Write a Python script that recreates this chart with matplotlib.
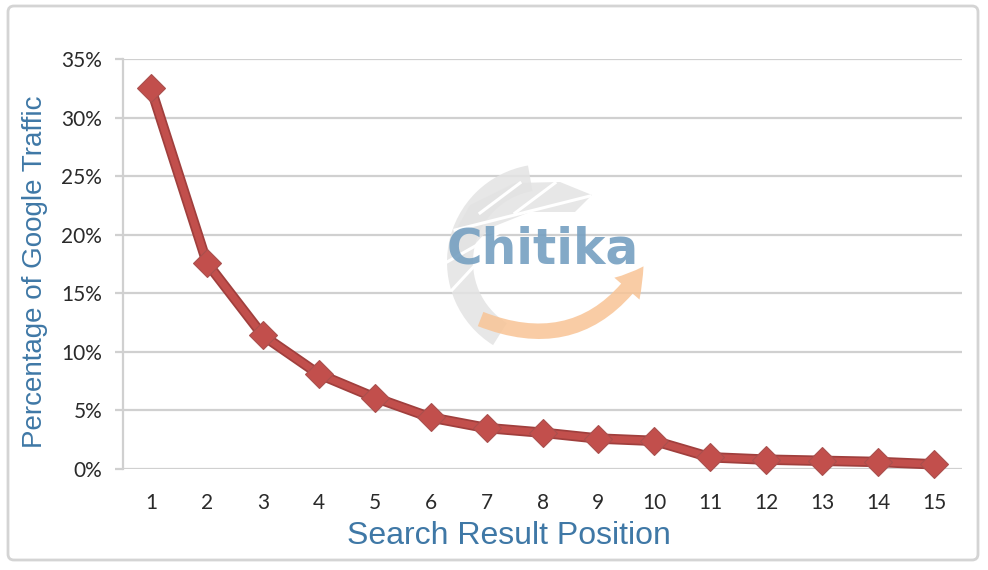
import matplotlib
matplotlib.use("Agg")
import matplotlib.pyplot as plt
import matplotlib.patheffects as pe
from matplotlib.patches import FancyBboxPatch, Wedge, FancyArrowPatch, Polygon
import numpy as np

positions = list(range(1, 16))
traffic_pct = [32.5, 17.6, 11.4, 8.1, 6.1, 4.4, 3.5, 3.1, 2.6, 2.4, 1.0, 0.8, 0.7, 0.6, 0.4]
y_ticks = [0, 5, 10, 15, 20, 25, 30, 35]
y_tick_labels = ["0%", "5%", "10%", "15%", "20%", "25%", "30%", "35%"]
x_label = "Search Result Position"
y_label = "Percentage of Google Traffic"
logo_text = "Chitika"

W, H = 988, 570
fig = plt.figure(figsize=(W / 100, H / 100), dpi=100)
fig.patch.set_facecolor("white")

# background overlay (pixel coords, y up)
ov = fig.add_axes([0, 0, 1, 1], zorder=0)
ov.set_xlim(0, W)
ov.set_ylim(0, H)
ov.axis("off")
ov.add_patch(FancyBboxPatch((8, 10), 970, 554, boxstyle="round,pad=0,rounding_size=6",
                            fc="white", ec="#d4d4d4", lw=2))

ax = fig.add_axes([123 / W, 1 - 469 / H, (962 - 123) / W, (469 - 59) / H], zorder=1)
ax.patch.set_alpha(0)
ax.set_xlim(0.5, 15.5)
ax.set_ylim(0, 35)
ax.set_yticks(y_ticks)
ax.set_yticklabels(y_tick_labels)
ax.set_xticks(positions)
ax.set_xticklabels([str(p) for p in positions])
ax.grid(axis="y", color="#d0d0d0", lw=1.6)
ax.set_axisbelow(True)
for s in ["top", "right", "bottom"]:
    ax.spines[s].set_visible(False)
ax.spines["left"].set_color("#d0d0d0")
ax.spines["left"].set_linewidth(1.6)
ax.tick_params(axis="y", length=6, width=1.6, color="#d0d0d0", pad=9, labelsize=15, labelcolor="#2a2a2a")
ax.tick_params(axis="x", length=0, pad=17, labelsize=15, labelcolor="#2a2a2a")
for lab in ax.get_xticklabels() + ax.get_yticklabels():
    lab.set_fontfamily("Lato")

# line with darker outline
ax.plot(positions, traffic_pct, color="#c24f4c", lw=5,
        path_effects=[pe.Stroke(linewidth=7.5, foreground="#a03f3d"), pe.Normal()],
        solid_joinstyle="round", zorder=5, clip_on=False)
# solid diamond markers
ax.plot(positions, traffic_pct, linestyle="none", marker="D", markersize=14,
        markerfacecolor="#c24f4c", markeredgecolor="#a9504e", markeredgewidth=0.8,
        zorder=6, clip_on=False)

fig.text(509 / W, 1 - 536 / H, x_label, fontsize=23, color="#3f78a6", family="Liberation Sans",
         ha="center", va="center")
fig.text(35 / W, 1 - 272 / H, y_label, fontsize=20, color="#3f78a6", family="Liberation Sans",
         ha="center", va="center", rotation=90)

# Chitika watermark (pixel coords, y up)
wm = fig.add_axes([0, 0, 1, 1], zorder=2)
wm.set_xlim(0, W)
wm.set_ylim(0, H)
wm.axis("off")
cx, cy = 545, H - 262
wm.add_patch(Wedge((cx, cy), 98, 100, 238, width=26, fc="#e3e3e3", ec="none", alpha=0.85))
cap = [(450, H - 240), (470, H - 205), (515, H - 183), (560, H - 182), (592, H - 195),
       (575, H - 212), (530, H - 212), (490, H - 228), (462, H - 258)]
wm.add_patch(Polygon(cap, closed=True, fc="#e3e3e3", ec="none", alpha=0.85))
for (x0, y0, x1, y1) in [(455, 230, 590, 196), (447, 262, 530, 215), (480, 213, 520, 183),
                         (515, 213, 555, 183), (452, 290, 478, 262)]:
    wm.plot([x0, x1], [H - y0, H - y1], color="white", lw=2.2)
wm.add_patch(FancyArrowPatch((478, H - 318), (645, H - 264), connectionstyle="arc3,rad=0.42",
                             arrowstyle="simple,head_length=20,head_width=24,tail_width=11",
                             fc="#f8c496", ec="none", alpha=0.85))
wm.text(543, H - 249, logo_text, fontsize=35, fontweight="bold", color="#76a0c1",
        family="DejaVu Sans", ha="center", va="center", alpha=0.9)

fig.savefig("out.png", dpi=100)
